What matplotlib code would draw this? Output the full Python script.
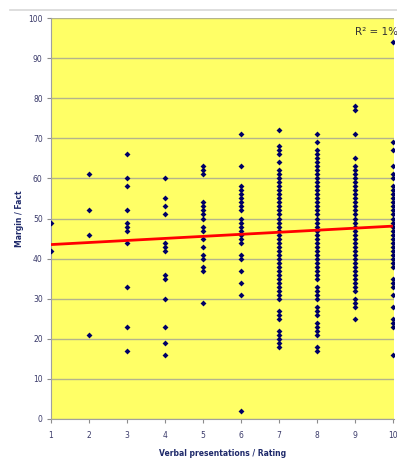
import matplotlib
matplotlib.use("Agg")
import matplotlib.pyplot as plt
from matplotlib.lines import Line2D

# Data: Margin / Fact values per Verbal presentation rating
r1 = [49, 42]
r2 = [61, 52, 46, 21]
r3 = [66, 60, 58, 52, 49, 48, 47, 44, 33, 23, 17]
r4 = [60, 55, 53, 51, 44, 43, 42, 36, 35, 30, 23, 19, 16]
r5 = [63, 62, 61, 54, 53, 52, 51, 50, 48, 47, 45, 43, 41, 40, 38, 37, 29]
r6 = [71, 63, 58, 57, 56, 55, 54, 53, 52, 50, 49, 48, 47, 46, 45, 44, 41, 40, 37, 34, 31, 2]
r7 = [72, 68, 67, 66, 64, 62, 61, 60, 59, 58, 57, 56, 55, 54, 53, 52, 51, 50, 49,
      48, 47, 46, 45, 44, 43, 42, 41, 40, 39, 38, 37, 36, 35, 34, 33, 32, 31, 30,
      27, 26, 25, 22, 21, 20, 19, 18]
r8 = [71, 69, 67, 66, 65, 64, 63, 62, 61, 60, 59, 58, 57, 56, 55, 54, 53, 52, 51,
      50, 49, 48, 47, 46, 45, 44, 43, 42, 41, 40, 39, 38, 37, 36, 35, 33, 32, 31,
      30, 28, 27, 26, 24, 23, 22, 21, 18, 17]
r9 = [78, 77, 71, 65, 63, 62, 61, 60, 59, 58, 57, 56, 55, 54, 53, 52, 51, 50, 49,
      48, 47, 46, 45, 44, 43, 42, 41, 40, 39, 38, 37, 36, 35, 34, 33, 32, 30, 29,
      28, 25]
r10 = [94, 69, 67, 63, 61, 60, 58, 57, 56, 55, 54, 53, 52, 51, 50, 49, 48, 47, 46,
       45, 44, 43, 42, 41, 40, 39, 38, 35, 34, 33, 31, 28, 25, 24, 23, 16]
ratings = [1, 2, 3, 4, 5, 6, 7, 8, 9, 10]
columns = [r1, r2, r3, r4, r5, r6, r7, r8, r9, r10]

# Trend line endpoints
trend_x = [1, 10]
trend_y = [43.5, 48.1]

x_ticks = [1, 2, 3, 4, 5, 6, 7, 8, 9, 10]
y_ticks = [0, 10, 20, 30, 40, 50, 60, 70, 80, 90, 100]

W, H = 397, 466
fig = plt.figure(figsize=(W / 100, H / 100), dpi=100)
fig.patch.set_facecolor("white")

left, right, top, bottom = 51, 394, 18, 419
ax = fig.add_axes([left / W, 1 - bottom / H, (right - left) / W, (bottom - top) / H])
ax.set_facecolor("#FFFF66")

xs, ys = [], []
for r, col in zip(ratings, columns):
    xs += [r] * len(col)
    ys += col
ax.scatter(xs, ys, marker="D", s=9, color="#000066", zorder=3, linewidths=0)

ax.plot(trend_x, trend_y, color="#FF0000", lw=2.0, zorder=4, solid_capstyle="butt")

ax.set_xlim(1, 10.03)
ax.set_ylim(0, 100)
ax.set_xticks(x_ticks)
ax.set_yticks(y_ticks)
ax.tick_params(axis="both", labelsize=5.5, colors="#8C8C8C", labelcolor="#3A3A6A",
               length=3, width=0.8, direction="out")
ax.tick_params(axis="x", pad=6)
ax.tick_params(axis="y", pad=3)
ax.yaxis.grid(True, color="#B4B48C", lw=1.0)
ax.set_axisbelow(True)
for s in ["top", "right"]:
    ax.spines[s].set_visible(False)
ax.spines["left"].set_color("#A0A0A0")
ax.spines["bottom"].set_color("#A0A0A0")

ax.set_xlabel("Verbal presentations / Rating", fontsize=5.5, fontweight="bold",
              color="#1F2A6B", labelpad=6)
ax.set_ylabel("Margin / Fact", fontsize=5.5, fontweight="bold", color="#1F2A6B",
              labelpad=3)

fig.text(355 / W, 1 - 32 / H, "R² = 1%", fontsize=7.5, color="#333333",
         ha="left", va="center")

fig.add_artist(Line2D([10 / W, 1], [1 - 10 / H, 1 - 10 / H], color="#D8D8D8", lw=1.2))

fig.savefig("out.png", dpi=100)
